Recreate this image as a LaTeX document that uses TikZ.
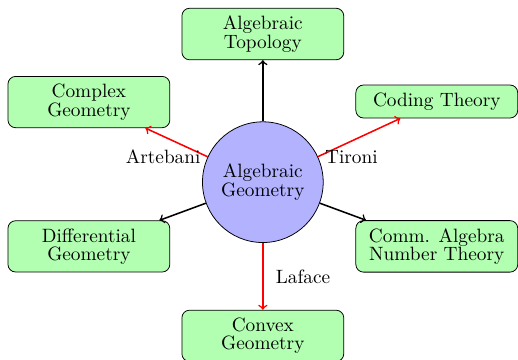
\documentclass[tikz,border=0pt]{standalone}
\usepackage{tikz}

\begin{document}
\begin{tikzpicture}[
    font=\fontsize{10}{9.5}\selectfont,
    topic/.style={draw, rounded corners=4pt, fill=green!30, align=center,
      inner sep=4pt, minimum width=2.95cm},
    core/.style={draw, circle, fill=blue!30, align=center, minimum size=2.2cm},
    arr/.style={->, thick},
    redarr/.style={arr, draw=red}
  ]
    \useasboundingbox (-4.79,-3.24) rectangle (4.65,3.32);

    \node[core] (ag) at (0,0) {Algebraic\\Geometry};

    \node[topic] (top) at (0,2.70) {Algebraic\\Topology};
    \node[topic] (cx) at (-3.17,1.46) {Complex\\Geometry};
    \node[topic] (code) at (3.17,1.47) {Coding Theory};
    \node[topic] (diff) at (-3.17,-1.17) {Differential\\Geometry};
    \node[topic] (comm) at (3.17,-1.17) {Comm. Algebra\\Number Theory};
    \node[topic] (cvx) at (0,-2.80) {Convex\\Geometry};

    \draw[arr] (ag) -- (top);
    \draw[arr] (ag) -- (diff);
    \draw[arr] (ag) -- (comm);
    \draw[redarr] (ag) -- node[pos=0, left] {Artebani} (cx);
    \draw[redarr] (ag) -- node[pos=0, right] {Tironi} (code);
    \draw[redarr] (ag) -- node[midway, right=3pt] {Laface} (cvx);
  \end{tikzpicture}
\end{document}
